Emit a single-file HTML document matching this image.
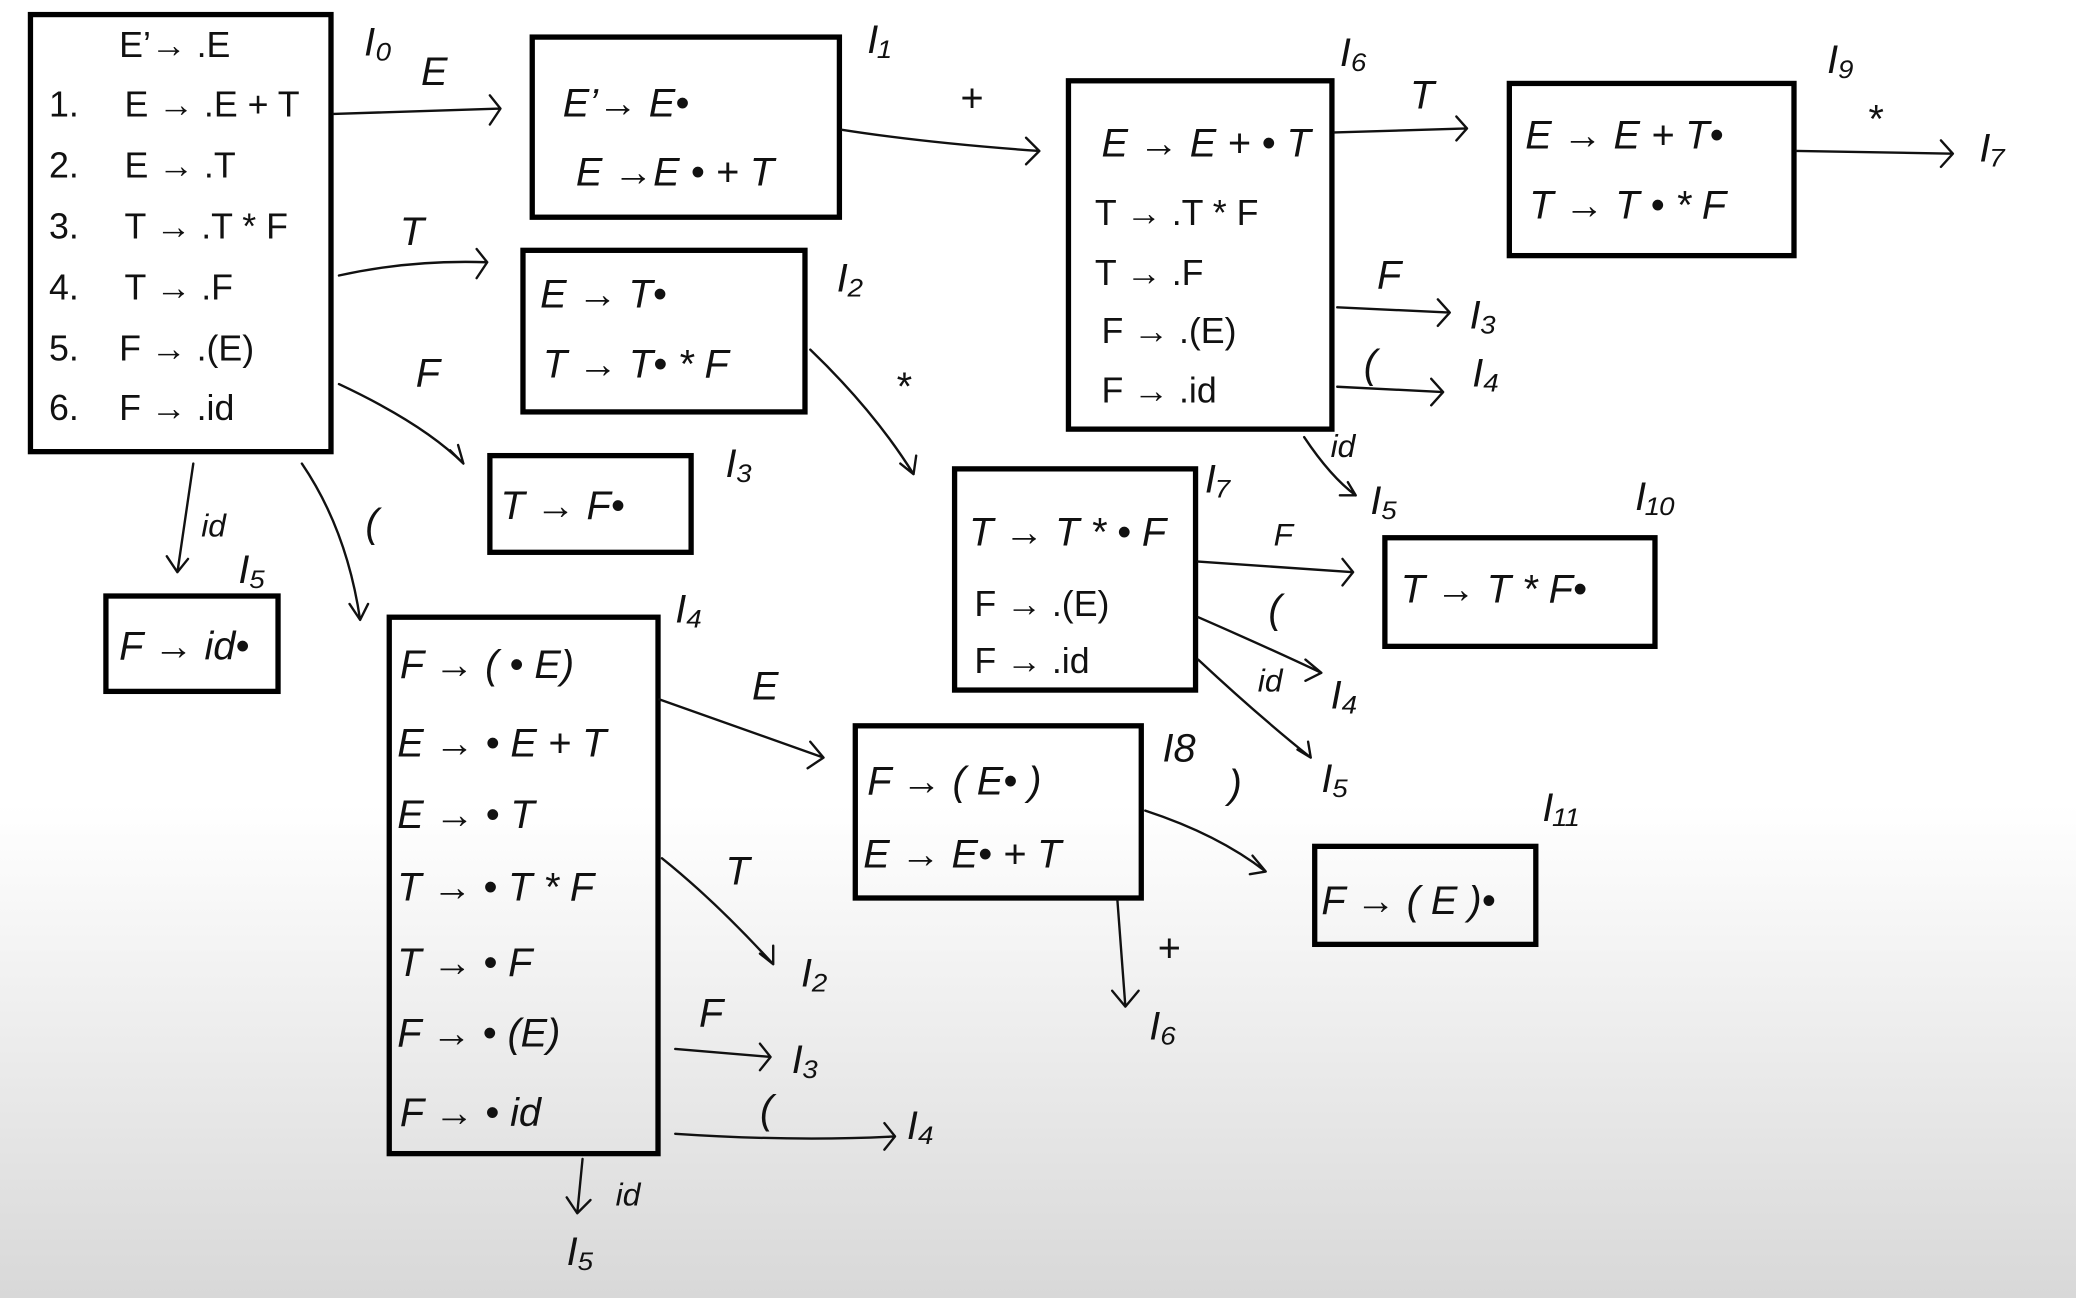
<!DOCTYPE html>
<html><head><meta charset="utf-8"><style>
html,body{margin:0;padding:0;width:2076px;height:1298px;overflow:hidden;}
svg{display:block;}
text{font-family:"Liberation Sans",sans-serif;fill:#111;}
.b{fill:none;stroke:#000;stroke-width:4;}
.a{fill:none;stroke:#111;stroke-width:1.8;stroke-linecap:round;stroke-linejoin:round;}
.t{font-size:27px;}
.h{font-size:30px;font-style:italic;}
.s{font-size:24px;font-style:italic;}
</style></head><body>
<svg width="2076" height="1298" viewBox="0 0 1568 980" preserveAspectRatio="none">
<defs><linearGradient id="g" x1="0" y1="0" x2="0" y2="1">
<stop offset="0" stop-color="#fff"/><stop offset="0.62" stop-color="#fff"/><stop offset="1" stop-color="#d8d8d8"/></linearGradient></defs>
<rect width="1568" height="980" fill="url(#g)"/>

<!-- I0 -->
<rect class="b" x="23" y="11" width="227" height="330"/>
<text class="t" x="90" y="43">E’→ .E</text>
<text class="t" x="37" y="88">1.</text><text class="t" x="94" y="88">E → .E + T</text>
<text class="t" x="37" y="134">2.</text><text class="t" x="94" y="134">E → .T</text>
<text class="t" x="37" y="180">3.</text><text class="t" x="94" y="180">T → .T * F</text>
<text class="t" x="37" y="226">4.</text><text class="t" x="94" y="226">T → .F</text>
<text class="t" x="37" y="272">5.</text><text class="t" x="90" y="272">F → .(E)</text>
<text class="t" x="37" y="317">6.</text><text class="t" x="90" y="317">F → .id</text>
<text class="h" x="275" y="42">I₀</text>

<!-- I1 -->
<rect class="b" x="402" y="28" width="232" height="136"/>
<text class="h" x="425" y="88">E’→ E•</text>
<text class="h" x="435" y="140">E →E • + T</text>
<text class="h" x="655" y="40">I₁</text>

<!-- I6 -->
<rect class="b" x="807" y="61" width="199" height="263"/>
<text class="h" x="832" y="118">E → E + • T</text>
<text class="t" x="827" y="170">T → .T * F</text>
<text class="t" x="827" y="215">T → .F</text>
<text class="t" x="832" y="259">F → .(E)</text>
<text class="t" x="832" y="304">F → .id</text>
<text class="h" x="1012" y="50">I₆</text>

<!-- I9 -->
<rect class="b" x="1140" y="63" width="215" height="130"/>
<text class="h" x="1152" y="112">E → E + T•</text>
<text class="h" x="1155" y="165">T → T • * F</text>
<text class="h" x="1380" y="55">I₉</text>
<text class="h" x="1495" y="122">I₇</text>

<!-- I2 -->
<rect class="b" x="395" y="189" width="213" height="122"/>
<text class="h" x="408" y="232">E → T•</text>
<text class="h" x="410" y="285">T → T• * F</text>
<text class="h" x="632" y="220">I₂</text>

<!-- I3 -->
<rect class="b" x="370" y="344" width="152" height="73"/>
<text class="h" x="378" y="392">T → F•</text>
<text class="h" x="548" y="360">I₃</text>

<!-- I5 -->
<rect class="b" x="80" y="450" width="130" height="72"/>
<text class="h" x="90" y="498">F → id•</text>
<text class="h" x="180" y="440">I₅</text>

<!-- I4 -->
<rect class="b" x="294" y="466" width="203" height="405"/>
<text class="h" x="302" y="512">F → ( • E)</text>
<text class="h" x="300" y="571">E → • E + T</text>
<text class="h" x="300" y="625">E → • T</text>
<text class="h" x="300" y="680">T → • T * F</text>
<text class="h" x="300" y="737">T → • F</text>
<text class="h" x="300" y="790">F → • (E)</text>
<text class="h" x="302" y="850">F → • id</text>
<text class="h" x="510" y="470">I₄</text>

<!-- I7 -->
<rect class="b" x="721" y="354" width="182" height="167"/>
<text class="h" x="732" y="412">T → T * • F</text>
<text class="t" x="736" y="465">F → .(E)</text>
<text class="t" x="736" y="508">F → .id</text>
<text class="h" x="910" y="372">I₇</text>

<!-- I10 -->
<rect class="b" x="1046" y="406" width="204" height="82"/>
<text class="h" x="1058" y="455">T → T * F•</text>
<text class="h" x="1235" y="385">I₁₀</text>

<!-- I8 -->
<rect class="b" x="646" y="548" width="216" height="130"/>
<text class="h" x="655" y="600">F → ( E• )</text>
<text class="h" x="652" y="655">E → E•  + T</text>
<text class="h" x="878" y="575">I8</text>

<!-- I11 -->
<rect class="b" x="993" y="639" width="167" height="74"/>
<text class="h" x="998" y="690">F → ( E )•</text>
<text class="h" x="1165" y="620">I₁₁</text>

<!-- arrows -->
<g class="a">
<path d="M252 86 L378 82 M370 72 L378 82 L370 94"/>
<path d="M636 98 Q700 108 785 114 M775 104 L785 114 L775 124"/>
<path d="M1008 100 L1108 97 M1100 88 L1108 97 L1100 106"/>
<path d="M1357 114 L1475 116 M1466 106 L1475 116 L1466 126"/>
<path d="M256 208 Q310 196 368 198 M360 188 L368 198 L360 210"/>
<path d="M256 290 Q320 320 350 350 M340 340 L350 350 L346 336"/>
<path d="M146 350 L134 432 M126 420 L134 432 L142 422"/>
<path d="M228 350 Q262 400 272 468 M264 456 L272 468 L278 456"/>
<path d="M612 264 Q660 310 690 358 M680 350 L690 358 L692 344"/>
<path d="M1010 232 L1095 236 M1086 226 L1095 236 L1086 246"/>
<path d="M1010 292 L1090 296 M1081 286 L1090 296 L1081 306"/>
<path d="M985 330 Q1005 360 1024 374 M1012 374 L1024 374 L1018 364"/>
<path d="M905 424 L1022 432 M1014 422 L1022 432 L1014 442"/>
<path d="M905 466 Q960 490 998 508 M986 498 L998 508 L986 514"/>
<path d="M905 498 Q950 540 990 572 M980 566 L990 572 L988 560"/>
<path d="M498 528 Q560 550 622 572 M612 560 L622 572 L610 580"/>
<path d="M865 612 Q920 630 956 658 M946 646 L956 658 L944 660"/>
<path d="M844 680 L850 760 M840 748 L850 760 L860 748"/>
<path d="M500 648 Q540 680 584 728 M574 720 L584 728 L584 714"/>
<path d="M510 792 L582 798 M574 788 L582 798 L574 808"/>
<path d="M510 856 Q600 862 676 858 M668 848 L676 858 L668 868"/>
<path d="M440 875 L436 916 M428 904 L436 916 L446 906"/>
</g>

<!-- arrow labels -->
<text class="h" x="318" y="64">E</text>
<text class="h" x="725" y="84">+</text>
<text class="h" x="1065" y="82">T</text>
<text class="h" x="1410" y="100">*</text>
<text class="h" x="302" y="185">T</text>
<text class="h" x="314" y="292">F</text>
<text class="s" x="152" y="405">id</text>
<text class="h" x="276" y="405">(</text>
<text class="h" x="676" y="302">*</text>
<text class="h" x="1040" y="218">F</text>
<text class="h" x="1110" y="248">I₃</text>
<text class="h" x="1030" y="285">(</text>
<text class="h" x="1112" y="292">I₄</text>
<text class="s" x="1005" y="345">id</text>
<text class="h" x="1035" y="388">I₅</text>
<text class="s" x="962" y="412">F</text>
<text class="h" x="958" y="470">(</text>
<text class="h" x="1005" y="535">I₄</text>
<text class="s" x="950" y="522">id</text>
<text class="h" x="998" y="598">I₅</text>
<text class="h" x="568" y="528">E</text>
<text class="h" x="928" y="602">)</text>
<text class="h" x="874" y="726">+</text>
<text class="h" x="868" y="785">I₆</text>
<text class="h" x="548" y="668">T</text>
<text class="h" x="605" y="745">I₂</text>
<text class="h" x="528" y="775">F</text>
<text class="h" x="598" y="810">I₃</text>
<text class="h" x="574" y="848">(</text>
<text class="h" x="685" y="860">I₄</text>
<text class="s" x="465" y="910">id</text>
<text class="h" x="428" y="955">I₅</text>
</svg>
</body></html>
